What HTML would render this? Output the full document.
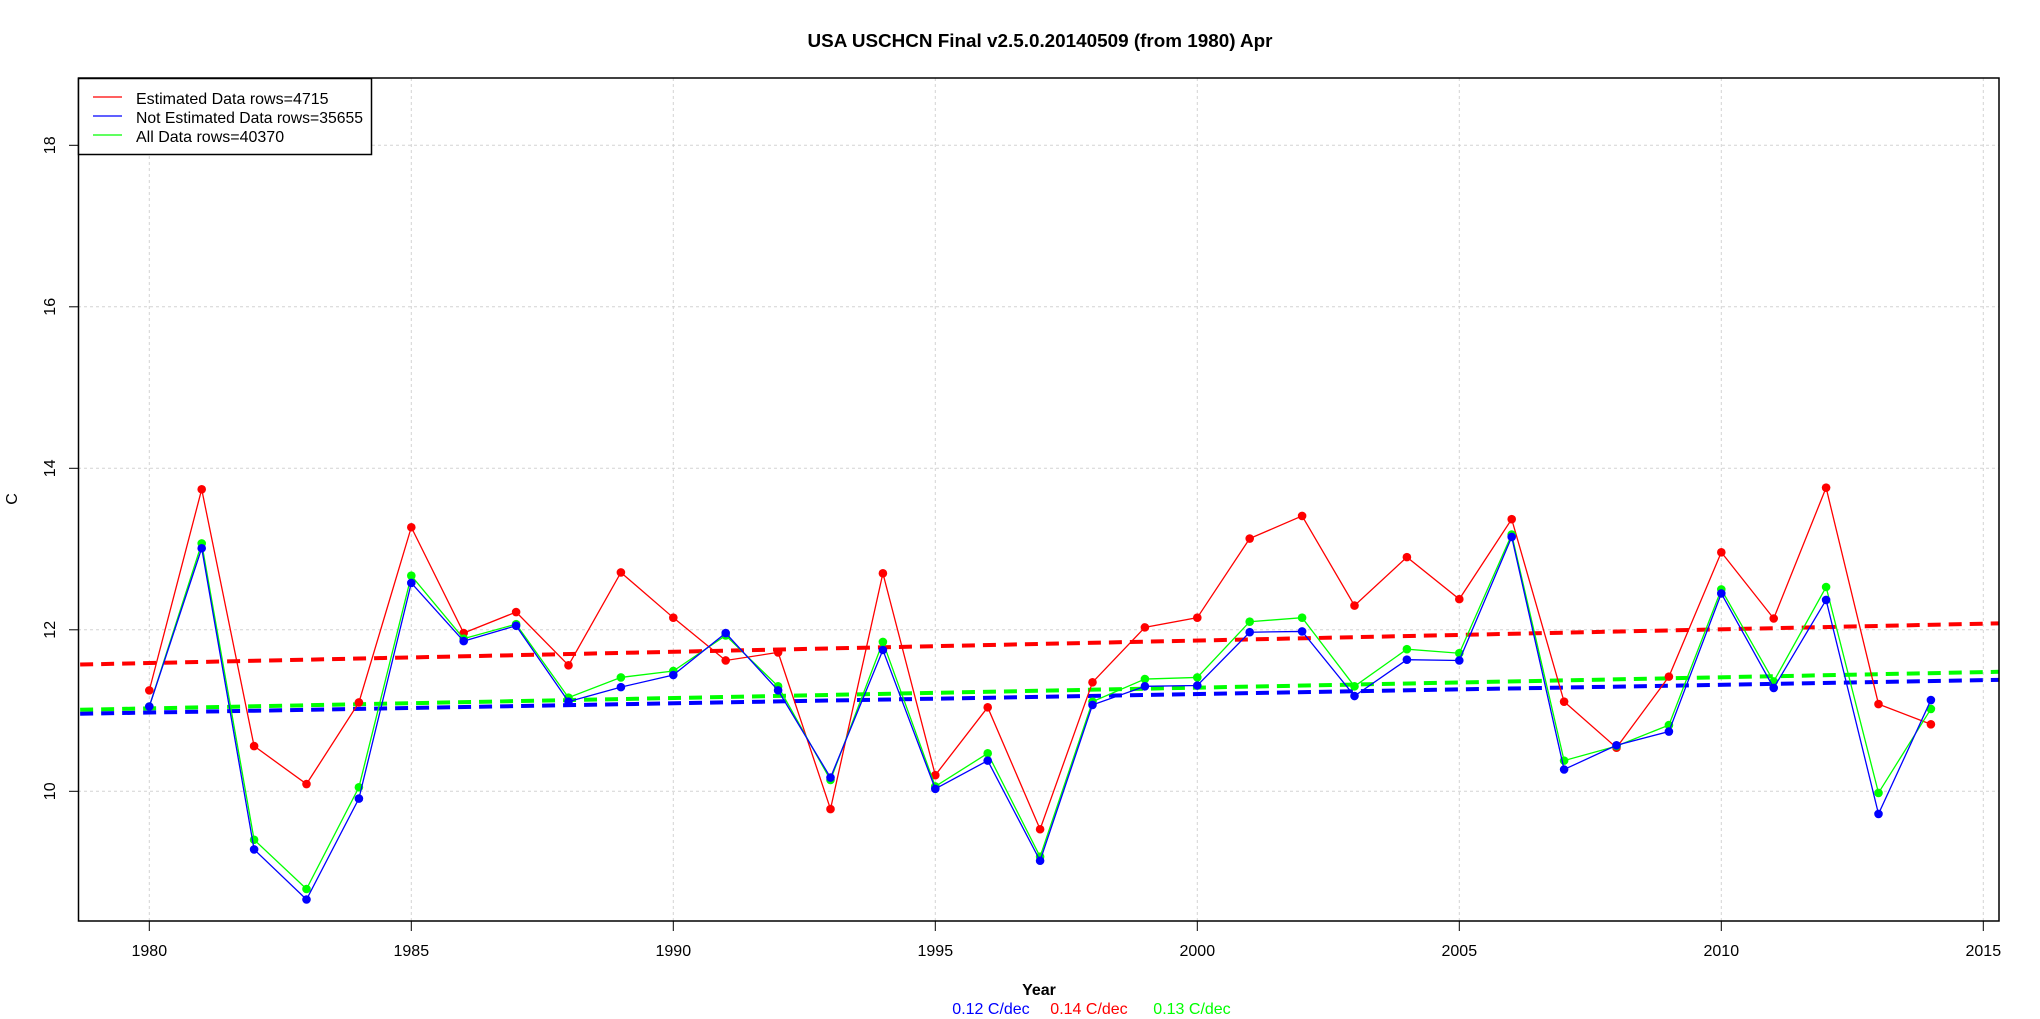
<!DOCTYPE html>
<html><head><meta charset="utf-8"><title>USA USCHCN Final Apr</title>
<style>
html,body{margin:0;padding:0;background:#fff;}
svg{display:block;font-family:"Liberation Sans",Arial,sans-serif;}
</style></head>
<body>
<svg id="chart" width="2040" height="1019" viewBox="0 0 2040 1019" xmlns="http://www.w3.org/2000/svg">
<rect x="0" y="0" width="2040" height="1019" fill="#fff"/>
<text x="1040" y="47" text-anchor="middle" font-size="18" font-weight="bold" textLength="465" lengthAdjust="spacingAndGlyphs">USA USCHCN Final v2.5.0.20140509 (from 1980) Apr</text>
<g id="grid"></g>
<g id="trends"></g>
<g id="series"></g>
<rect x="78.5" y="78" width="1920.5" height="843" fill="none" stroke="#000" stroke-width="1.5"/>
<g id="axes"></g>
<text transform="translate(17,499) rotate(-90)" text-anchor="middle" font-size="16">C</text>
<text x="1039" y="995" text-anchor="middle" font-size="16" font-weight="bold">Year</text>
<text x="991" y="1014" text-anchor="middle" font-size="16" fill="#0000ff">0.12 C/dec</text>
<text x="1089" y="1014" text-anchor="middle" font-size="16" fill="#ff0000">0.14 C/dec</text>
<text x="1192" y="1014" text-anchor="middle" font-size="16" fill="#00ff00">0.13 C/dec</text>
<g>
  <rect x="78.5" y="78.5" width="293" height="76" fill="#fff" stroke="#000" stroke-width="1.5"/>
  <line x1="93" y1="97" x2="122" y2="97" stroke="#ff0000" stroke-width="1.3"/>
  <text x="136" y="104" font-size="16">Estimated Data rows=4715</text>
  <line x1="93" y1="116" x2="122" y2="116" stroke="#0000ff" stroke-width="1.3"/>
  <text x="136" y="123" font-size="16" textLength="227" lengthAdjust="spacingAndGlyphs">Not Estimated Data rows=35655</text>
  <line x1="93" y1="135" x2="122" y2="135" stroke="#00ff00" stroke-width="1.3"/>
  <text x="136" y="142" font-size="16">All Data rows=40370</text>
</g>
</svg>
<script>
const years = [1980,1981,1982,1983,1984,1985,1986,1987,1988,1989,1990,1991,1992,1993,1994,1995,1996,1997,1998,1999,2000,2001,2002,2003,2004,2005,2006,2007,2008,2009,2010,2011,2012,2013,2014];
const estimated = [11.25,13.74,10.56,10.09,11.10,13.27,11.96,12.22,11.56,12.71,12.15,11.62,11.72,9.78,12.70,10.20,11.04,9.53,11.35,12.03,12.15,13.13,13.41,12.30,12.90,12.38,13.37,11.11,10.54,11.42,12.96,12.14,13.76,11.08,10.83];
const notEstimated = [11.05,13.01,9.28,8.66,9.91,12.58,11.86,12.05,11.11,11.29,11.44,11.96,11.25,10.17,11.75,10.03,10.38,9.14,11.07,11.30,11.31,11.97,11.98,11.18,11.63,11.62,13.15,10.27,10.57,10.74,12.45,11.28,12.37,9.72,11.13];
const allData = [11.05,13.07,9.40,8.79,10.05,12.67,11.89,12.07,11.16,11.41,11.49,11.93,11.30,10.14,11.85,10.06,10.47,9.19,11.11,11.39,11.41,12.10,12.15,11.30,11.76,11.71,13.18,10.38,10.56,10.82,12.50,11.36,12.53,9.98,11.02];
const trendYears = [1978.68,2015.30];
const trendEstimated = [11.57,12.08];
const trendNotEstimated = [10.96,11.38];
const trendAll = [11.01,11.48];
const xTicks = [1980,1985,1990,1995,2000,2005,2010,2015];
const yTicks = [10,12,14,16,18];
const yTickLabels = ["10","12","14","16","18"];

const NS = "http://www.w3.org/2000/svg";
const X0 = 149.3, XPY = 52.4;
const Y0 = 791.3, YPU = 80.75;
function xs(yr){ return X0 + (yr - 1980) * XPY; }
function ys(v){ return Y0 - (v - 10) * YPU; }
function mk(tag, attrs, parent){
  const e = document.createElementNS(NS, tag);
  for (const k in attrs) e.setAttribute(k, attrs[k]);
  parent.appendChild(e);
  return e;
}
const grid = document.getElementById('grid');
const axes = document.getElementById('axes');
xTicks.forEach(t => {
  const g = mk('line', {x1:xs(t), y1:78, x2:xs(t), y2:921, stroke:'#d3d3d3', 'stroke-width':1, 'stroke-dasharray':'3,3'}, grid);
  
  
  const tk = mk('line', {x1:xs(t), y1:921, x2:xs(t), y2:931, stroke:'#000', 'stroke-width':1}, axes);
  
  
  const lb = mk('text', {x:xs(t), y:956, 'text-anchor':'middle', 'font-size':16}, axes);
  lb.textContent = String(t);
  
  
});
yTicks.forEach((t, i) => {
  const g = mk('line', {x1:78, y1:ys(t), x2:1999, y2:ys(t), stroke:'#d3d3d3', 'stroke-width':1, 'stroke-dasharray':'3,3'}, grid);
  
  
  const tk = mk('line', {x1:69, y1:ys(t), x2:78, y2:ys(t), stroke:'#000', 'stroke-width':1}, axes);
  
  
  const lb = mk('text', {transform:'translate(55,' + ys(t) + ') rotate(-90)', 'text-anchor':'middle', 'font-size':16}, axes);
  lb.textContent = yTickLabels[i];
  
  
});
const trends = document.getElementById('trends');
[[trendEstimated,'#ff0000','trend-estimated'],[trendAll,'#00ff00','trend-all'],[trendNotEstimated,'#0000ff','trend-not-estimated']].forEach(s => {
  const l = mk('line', {x1:xs(trendYears[0]), y1:ys(s[0][0]), x2:xs(trendYears[1]), y2:ys(s[0][1]), stroke:s[1], 'stroke-width':4, 'stroke-dasharray':'13,8'}, trends);
  
  
});
const series = document.getElementById('series');
[[estimated,'#ff0000','estimated'],[allData,'#00ff00','all-data'],[notEstimated,'#0000ff','not-estimated']].forEach(s => {
  const pts = years.map((y, i) => xs(y) + ',' + ys(s[0][i])).join(' ');
  const pl = mk('polyline', {points:pts, fill:'none', stroke:s[1], 'stroke-width':1.3}, series);
  
  
  years.forEach((y, i) => {
    const c = mk('circle', {cx:xs(y), cy:ys(s[0][i]), r:4.3, fill:s[1]}, series);
    
    
  });
});
</script>
</body></html>
